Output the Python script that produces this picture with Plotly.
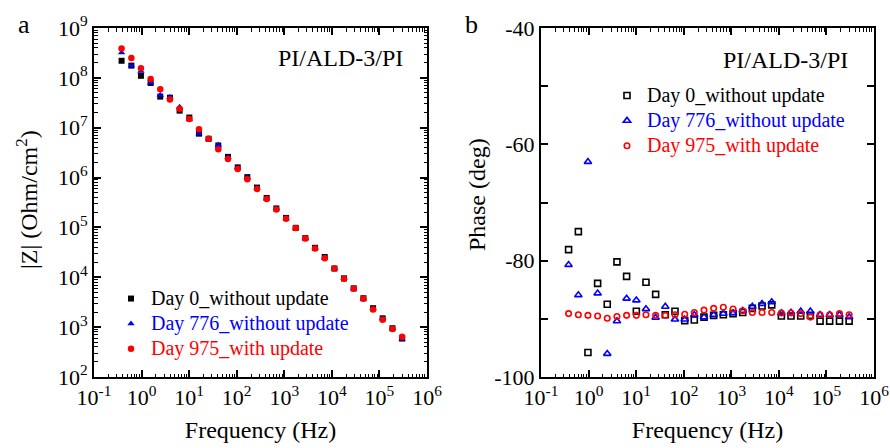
import plotly.graph_objects as go

# ---------------- data ----------------
freq_hz = [0.38, 0.61, 0.97, 1.55, 2.47, 3.95, 6.3, 10.1, 16.1, 25.7,
           41, 65.5, 105, 167, 267, 426, 681, 1090, 1740, 2770,
           4430, 7080, 11300, 18000, 28800, 46000, 73500, 117000, 188000, 300000]

series_names = ["Day 0_without update", "Day 776_without update", "Day 975_with update"]
series_colors = ["#000000", "#0000FF", "#FF0000"]

z_day0 = [2.2e8, 1.76e8, 1.1e8, 7.9e7, 4.2e7, 4.0e7, 2.2e7, 1.6e7, 7.6e6, 6.0e6,
          4.4e6, 2.6e6, 1.6e6, 1.02e6, 6.3e5, 3.9e5, 2.4e5, 1.55e5, 9.8e4, 6.1e4,
          3.9e4, 2.55e4, 1.5e4, 9.5e3, 6.0e3, 3.8e3, 2.4e3, 1.5e3, 9.5e2, 5.9e2]
z_day776 = [3.2e8, 1.75e8, 1.37e8, 7.9e7, 4.5e7, 4.1e7, 2.6e7, 1.45e7, 7.6e6, 6.0e6,
            4.5e6, 2.55e6, 1.6e6, 1.0e6, 6.2e5, 3.8e5, 2.4e5, 1.5e5, 9.7e4, 6.1e4,
            3.9e4, 2.45e4, 1.5e4, 9.5e3, 5.9e3, 3.7e3, 2.35e3, 1.5e3, 9.3e2, 5.7e2]
z_day975 = [3.9e8, 2.5e8, 1.56e8, 9.5e7, 5.9e7, 3.7e7, 2.4e7, 1.5e7, 9.3e6, 6.0e6,
            3.7e6, 2.35e6, 1.48e6, 9.3e5, 5.9e5, 3.7e5, 2.3e5, 1.5e5, 9.7e4, 6.0e4,
            3.8e4, 2.4e4, 1.5e4, 9.3e3, 5.9e3, 3.7e3, 2.25e3, 1.4e3, 9.2e2, 6.4e2]

phase_day0 = [-78.1, -75.0, -95.8, -83.9, -87.5, -80.2, -82.7, -88.7, -83.7, -85.8,
              -89.3, -88.7, -90.3, -90.2, -89.7, -89.4, -89.3, -89.1, -88.9, -88.2,
              -87.8, -87.6, -89.5, -89.5, -89.5, -89.4, -90.4, -90.4, -90.4, -90.4]
phase_day776 = [-80.7, -85.9, -63.0, -85.6, -96.0, -90.4, -86.5, -86.8, -88.3, -89.8,
                -87.9, -90.1, -90.1, -89.3, -89.7, -89.3, -89.1, -89.0, -88.6, -87.9,
                -87.4, -87.1, -89.0, -88.9, -88.7, -88.7, -89.3, -89.3, -89.3, -89.7]
phase_day975 = [-89.1, -89.3, -89.4, -89.5, -89.9, -89.6, -89.4, -89.4, -89.3, -89.4,
                -89.4, -89.3, -89.2, -88.9, -88.5, -88.2, -88.0, -88.3, -88.6, -88.9,
                -88.9, -88.9, -89.0, -89.0, -89.1, -89.7, -89.3, -89.3, -89.1, -89.3]

freq_tickvals = [0.1, 1, 10, 100, 1e3, 1e4, 1e5, 1e6]
freq_ticktext = ["10<sup>-1</sup>", "10<sup>0</sup>", "10<sup>1</sup>", "10<sup>2</sup>",
                 "10<sup>3</sup>", "10<sup>4</sup>", "10<sup>5</sup>", "10<sup>6</sup>"]
z_tickvals = [1e2, 1e3, 1e4, 1e5, 1e6, 1e7, 1e8, 1e9]
z_ticktext = ["10<sup>2</sup>", "10<sup>3</sup>", "10<sup>4</sup>", "10<sup>5</sup>",
              "10<sup>6</sup>", "10<sup>7</sup>", "10<sup>8</sup>", "10<sup>9</sup>"]
phase_ticks = [-100, -90, -80, -70, -60, -50, -40]
phase_ticktext = ["-100", "", "-80", "", "-60", "", "-40"]

sample_label = "PI/ALD-3/PI"
x_title = "Frequency (Hz)"
z_title = "|Z| (Ohm/cm<sup>2</sup>)"
phase_title = "Phase (deg)"

# ---------------- figure ----------------
FONT = "Liberation Serif, Times New Roman, DejaVu Serif, serif"
fig = go.Figure()

z_series = [z_day0, z_day776, z_day975]
ph_series = [phase_day0, phase_day776, phase_day975]
filled_symbols = ["square", "triangle-up", "circle"]
open_symbols = ["square-open", "triangle-up-open", "circle-open"]
filled_sizes = [6, 6.5, 6.5]
open_sizes = [6, 6.5, 5.5]


def legend_label(name, color):
    return f"<span style='font-size:20px;color:{color}'>{name}</span>"


for name, color, sym, sz, z in zip(series_names, series_colors, filled_symbols, filled_sizes, z_series):
    fig.add_trace(go.Scatter(
        x=freq_hz, y=z, mode="markers", name=legend_label(name, color),
        marker=dict(symbol=sym, size=sz, color=color, line=dict(width=0)),
        xaxis="x", yaxis="y", legend="legend"))

for name, color, sym, sz, ph in zip(series_names, series_colors, open_symbols, open_sizes, ph_series):
    fig.add_trace(go.Scatter(
        x=freq_hz, y=ph, mode="markers", name=legend_label(name, color),
        marker=dict(symbol=sym, size=sz, color=color, line=dict(width=1.6, color=color)),
        xaxis="x2", yaxis="y2", legend="legend2"))

W, H = 890, 448
ML, MR, MT, MB = 94, 16, 28, 71
PW = W - ML - MR
PH = H - MT - MB


def px_x(px):
    return (px - ML) / PW


def px_y(py):
    return (H - MB - py) / PH


tickfont = dict(family=FONT, size=22, color="black")
titlefont = dict(family=FONT, size=24, color="black")

common_axis = dict(
    showline=True, linecolor="black", linewidth=2, mirror="ticks",
    ticks="inside", ticklen=7, tickwidth=1.5, tickcolor="black",
    showgrid=False, zeroline=False, tickfont=tickfont, automargin=False,
)
log_minor = dict(ticks="inside", ticklen=3.5, tickwidth=1, tickcolor="black",
                 dtick="D1", showgrid=False)

log_x = dict(common_axis, type="log", range=[-1, 6], tickmode="array",
             tickvals=freq_tickvals, ticktext=freq_ticktext, minor=log_minor,
             title=dict(text=x_title, font=titlefont, standoff=12))

legend_common = dict(xanchor="left", yanchor="top", bgcolor="rgba(0,0,0,0)", borderwidth=0,
                     font=dict(family=FONT, size=17, color="black"),
                     itemclick=False, tracegroupgap=0)

fig.update_layout(
    width=W, height=H,
    margin=dict(l=ML, r=MR, t=MT, b=MB, autoexpand=False),
    paper_bgcolor="white", plot_bgcolor="white",
    font=dict(family=FONT, color="black"),
    xaxis=dict(log_x, domain=[0, px_x(427)], anchor="y"),
    yaxis=dict(common_axis, type="log", range=[2, 9], tickmode="array",
               tickvals=z_tickvals, ticktext=z_ticktext, minor=log_minor,
               domain=[0, 1], anchor="x"),
    xaxis2=dict(log_x, domain=[px_x(541), 1], anchor="y2"),
    yaxis2=dict(common_axis, range=[-100, -40], tickmode="array",
                tickvals=phase_ticks, ticktext=phase_ticktext,
                domain=[0, 1], anchor="x2"),
    legend=dict(legend_common, x=px_x(111), y=px_y(281)),
    legend2=dict(legend_common, x=px_x(607), y=px_y(78)),
    showlegend=True,
    annotations=[
        dict(text=z_title, x=px_x(27), y=px_y(200), xref="paper", yref="paper",
             xanchor="center", yanchor="middle", textangle=-90, showarrow=False,
             font=titlefont),
        dict(text=phase_title, x=px_x(477), y=px_y(195), xref="paper", yref="paper",
             xanchor="center", yanchor="middle", textangle=-90, showarrow=False,
             font=titlefont),
        dict(text=sample_label, x=px_x(405), y=px_y(58), xref="paper", yref="paper",
             xanchor="right", yanchor="middle", showarrow=False,
             font=dict(family=FONT, size=24, color="black")),
        dict(text=sample_label, x=px_x(850), y=px_y(60), xref="paper", yref="paper",
             xanchor="right", yanchor="middle", showarrow=False,
             font=dict(family=FONT, size=24, color="black")),
        dict(text="a", x=px_x(24), y=px_y(24), xref="paper", yref="paper",
             xanchor="center", yanchor="middle", showarrow=False,
             font=dict(family=FONT, size=26, color="black")),
        dict(text="b", x=px_x(471), y=px_y(24), xref="paper", yref="paper",
             xanchor="center", yanchor="middle", showarrow=False,
             font=dict(family=FONT, size=26, color="black")),
    ],
)

fig.write_html("out.html")
